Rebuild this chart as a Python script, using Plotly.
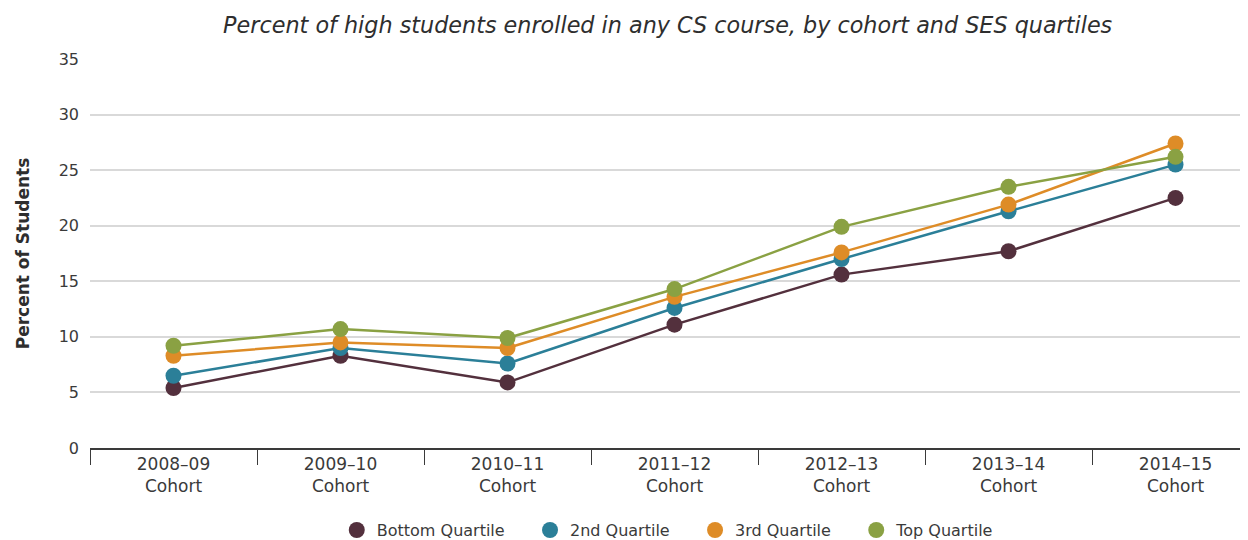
import plotly.graph_objects as go

categories = ["2008–09<br>Cohort", "2009–10<br>Cohort", "2010–11<br>Cohort", "2011–12<br>Cohort",
              "2012–13<br>Cohort", "2013–14<br>Cohort", "2014–15<br>Cohort"]
bottom_q = [5.4, 8.3, 5.9, 11.1, 15.6, 17.7, 22.5]
second_q = [6.5, 9.0, 7.6, 12.6, 17.0, 21.3, 25.5]
third_q = [8.3, 9.5, 9.0, 13.6, 17.6, 21.9, 27.4]
top_q = [9.2, 10.7, 9.9, 14.3, 19.9, 23.5, 26.2]
series_names = ["Bottom Quartile", "2nd Quartile", "3rd Quartile", "Top Quartile"]
colors = ["#53303d", "#2b7f98", "#de8c27", "#8aa143"]

FONT = "DejaVu Sans, sans-serif"
PAD = "\u00a0" * 4

fig = go.Figure()
for name, vals, col in zip(series_names, [bottom_q, second_q, third_q, top_q], colors):
    fig.add_trace(go.Scatter(
        x=categories, y=vals, name=name, mode="lines+markers",
        line=dict(color=col, width=2.5),
        marker=dict(color=col, size=16),
        showlegend=False, legendgroup=name,
    ))
# marker-only legend entries
for name, col in zip(series_names, colors):
    fig.add_trace(go.Scatter(
        x=[None], y=[None], name=name + PAD, mode="markers",
        marker=dict(color=col, size=16), showlegend=True, legendgroup=name,
    ))

# page body has an 8px margin, so the figure is sized/offset to compensate
fig.update_layout(
    width=1240, height=532,
    margin=dict(l=82, r=0, t=51, b=92, autoexpand=False),
    paper_bgcolor="white", plot_bgcolor="white",
    font=dict(family=FONT, color="#3a3a3a", size=16),
    title=dict(text="<i>Percent of high students enrolled in any CS course, by cohort and SES quartiles</i>",
               x=0.532, xanchor="center", y=0.968, yanchor="middle",
               font=dict(size=22.3, color="#2e2e2e", family=FONT)),
    legend=dict(orientation="h", x=0.508, xanchor="center", y=-0.211, yanchor="middle",
                font=dict(size=16), itemwidth=30, traceorder="normal"),
    showlegend=True,
)
fig.update_xaxes(
    type="category", range=[-0.5, 6.434], tickson="boundaries",
    ticks="outside", ticklen=15, tickcolor="#3a3a3a", tickwidth=1.2,
    showline=True, linecolor="#3a3a3a", linewidth=1.5, automargin=False,
    showgrid=False, tickfont=dict(size=17, color="#3a3a3a"),
)
fig.update_yaxes(
    range=[0, 35], dtick=5, showgrid=True, gridcolor="#d9d9d9", gridwidth=1.5,
    zeroline=False, showline=False, ticks="", ticklabelstandoff=10, automargin=False,
    tickfont=dict(size=16, color="#3a3a3a"),
    title=dict(text="<b>Percent of Students</b>", font=dict(size=17, color="#2e2e2e"), standoff=24),
)

fig.write_html("out.html")
